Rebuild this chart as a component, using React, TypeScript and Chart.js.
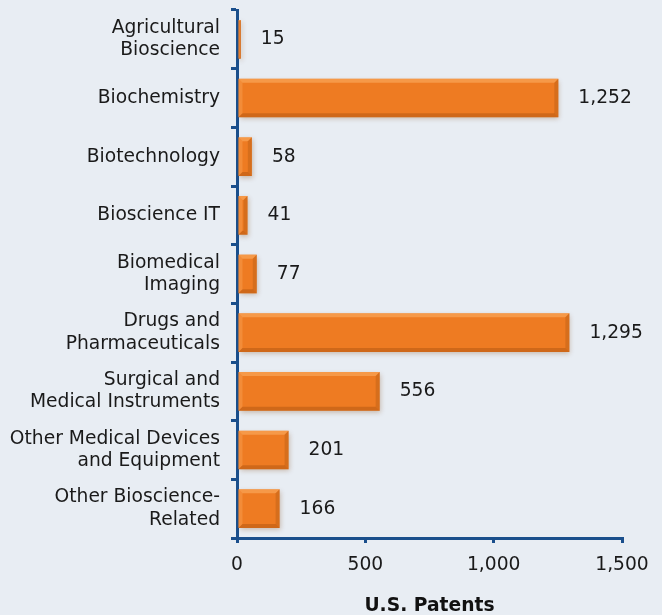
import React, { useEffect, useRef } from "react";
import { Chart, registerables } from "chart.js";

Chart.register(...registerables);

const categories: (string | string[])[] = [
  ["Agricultural", "Bioscience"],
  "Biochemistry",
  "Biotechnology",
  "Bioscience IT",
  ["Biomedical", "Imaging"],
  ["Drugs and", "Pharmaceuticals"],
  ["Surgical and", "Medical Instruments"],
  ["Other Medical Devices", "and Equipment"],
  ["Other Bioscience-", "Related"],
];
const patents = [15, 1252, 58, 41, 77, 1295, 556, 201, 166];
const xTicks = [0, 500, 1000, 1500];
const xTitle = "U.S. Patents";

const AXIS = "#1a4f8c";
const BG = "#e8edf3";
const FONT = "'DejaVu Sans', Verdana, sans-serif";
const FS = 18.7;

const bevelPlugin = {
  id: "bevel",
  beforeDatasetDraw(chart: any) {
    const ctx = chart.ctx;
    ctx.save();
    ctx.shadowColor = "rgba(120,60,0,0.3)";
    ctx.shadowBlur = 5;
    ctx.shadowOffsetX = 1;
    ctx.shadowOffsetY = 2;
  },
  afterDatasetDraw(chart: any) {
    const ctx = chart.ctx;
    ctx.restore();
    const meta = chart.getDatasetMeta(0);
    meta.data.forEach((bar: any) => {
      const x0 = bar.base;
      const x1 = bar.x;
      const h = bar.height;
      const y0 = bar.y - h / 2;
      const y1 = bar.y + h / 2;
      const b = Math.min(4, (x1 - x0) / 2);
      if (b <= 0) return;
      ctx.save();
      ctx.fillStyle = "rgba(255,190,120,0.45)";
      ctx.beginPath();
      ctx.moveTo(x0, y0);
      ctx.lineTo(x1, y0);
      ctx.lineTo(x1 - b, y0 + b);
      ctx.lineTo(x0 + b, y0 + b);
      ctx.closePath();
      ctx.fill();
      ctx.fillStyle = "rgba(255,180,110,0.3)";
      ctx.beginPath();
      ctx.moveTo(x0, y0);
      ctx.lineTo(x0 + b, y0 + b);
      ctx.lineTo(x0 + b, y1 - b);
      ctx.lineTo(x0, y1);
      ctx.closePath();
      ctx.fill();
      ctx.fillStyle = "rgba(150,70,10,0.35)";
      ctx.beginPath();
      ctx.moveTo(x0, y1);
      ctx.lineTo(x0 + b, y1 - b);
      ctx.lineTo(x1 - b, y1 - b);
      ctx.lineTo(x1, y1);
      ctx.closePath();
      ctx.fill();
      ctx.fillStyle = "rgba(160,80,15,0.3)";
      ctx.beginPath();
      ctx.moveTo(x1, y0);
      ctx.lineTo(x1, y1);
      ctx.lineTo(x1 - b, y1 - b);
      ctx.lineTo(x1 - b, y0 + b);
      ctx.closePath();
      ctx.fill();
      ctx.restore();
    });
  },
};

const labelPlugin = {
  id: "valueLabels",
  afterDatasetsDraw(chart: any) {
    const ctx = chart.ctx;
    const meta = chart.getDatasetMeta(0);
    ctx.save();
    ctx.font = `${FS}px ${FONT}`;
    ctx.fillStyle = "#1a1a1a";
    ctx.textAlign = "left";
    ctx.textBaseline = "middle";
    meta.data.forEach((bar: any, i: number) => {
      ctx.fillText(patents[i].toLocaleString("en-US"), bar.x + 20, bar.y);
    });
    ctx.restore();
  },
};

const bgPlugin = {
  id: "bg",
  beforeDraw(chart: any) {
    const ctx = chart.ctx;
    ctx.save();
    ctx.fillStyle = BG;
    ctx.fillRect(0, 0, chart.width, chart.height);
    ctx.restore();
  },
};

export default function App() {
  const ref = useRef<HTMLCanvasElement>(null);
  useEffect(() => {
    if (!ref.current) return;
    const chart = new Chart(ref.current, {
      type: "bar",
      data: {
        labels: categories as any,
        datasets: [
          {
            data: patents,
            backgroundColor: "#ee7b22",
            borderWidth: 0,
            barPercentage: 0.66,
            categoryPercentage: 1,
          },
        ],
      },
      options: {
        indexAxis: "y",
        animation: false,
        responsive: false,
        devicePixelRatio: 1,
        layout: { padding: { top: 10, right: 40, left: 0, bottom: 0 } },
        plugins: { legend: { display: false }, tooltip: { enabled: false } },
        scales: {
          x: {
            min: 0,
            max: 1500,
            afterBuildTicks(scale: any) {
              scale.ticks = xTicks.map((v) => ({ value: v }));
            },
            afterFit(scale: any) {
              scale.height = 77;
            },
            border: { color: AXIS, width: 3 },
            grid: { drawOnChartArea: false, drawTicks: true, tickLength: 5, color: AXIS, lineWidth: 3 },
            ticks: {
              color: "#1a1a1a",
              font: { family: FONT, size: FS },
              padding: 11,
              maxRotation: 0,
              callback: (v: any) => Number(v).toLocaleString("en-US"),
            },
            title: {
              display: true,
              text: xTitle,
              color: "#111",
              font: { family: FONT, size: FS, weight: "bold" },
              padding: { top: 10, bottom: -2 },
            },
          },
          y: {
            afterFit(scale: any) {
              scale.width = 237;
              scale.paddingTop = 0;
              scale.paddingBottom = 0;
            },
            border: { color: AXIS, width: 3 },
            grid: { drawOnChartArea: false, drawTicks: true, tickLength: 6, color: AXIS, lineWidth: 3, offset: true },
            ticks: {
              color: "#1a1a1a",
              font: { family: FONT, size: FS, lineHeight: 1.18 },
              padding: 11,
              autoSkip: false,
            },
          },
        },
      },
      plugins: [bgPlugin, bevelPlugin, labelPlugin],
    });
    return () => chart.destroy();
  }, []);
  return (
    <div style={{ position: "fixed", left: 0, top: 0, width: 662, height: 615, background: BG }}>
      <canvas ref={ref} width={662} height={615} style={{ display: "block" }} />
    </div>
  );
}
